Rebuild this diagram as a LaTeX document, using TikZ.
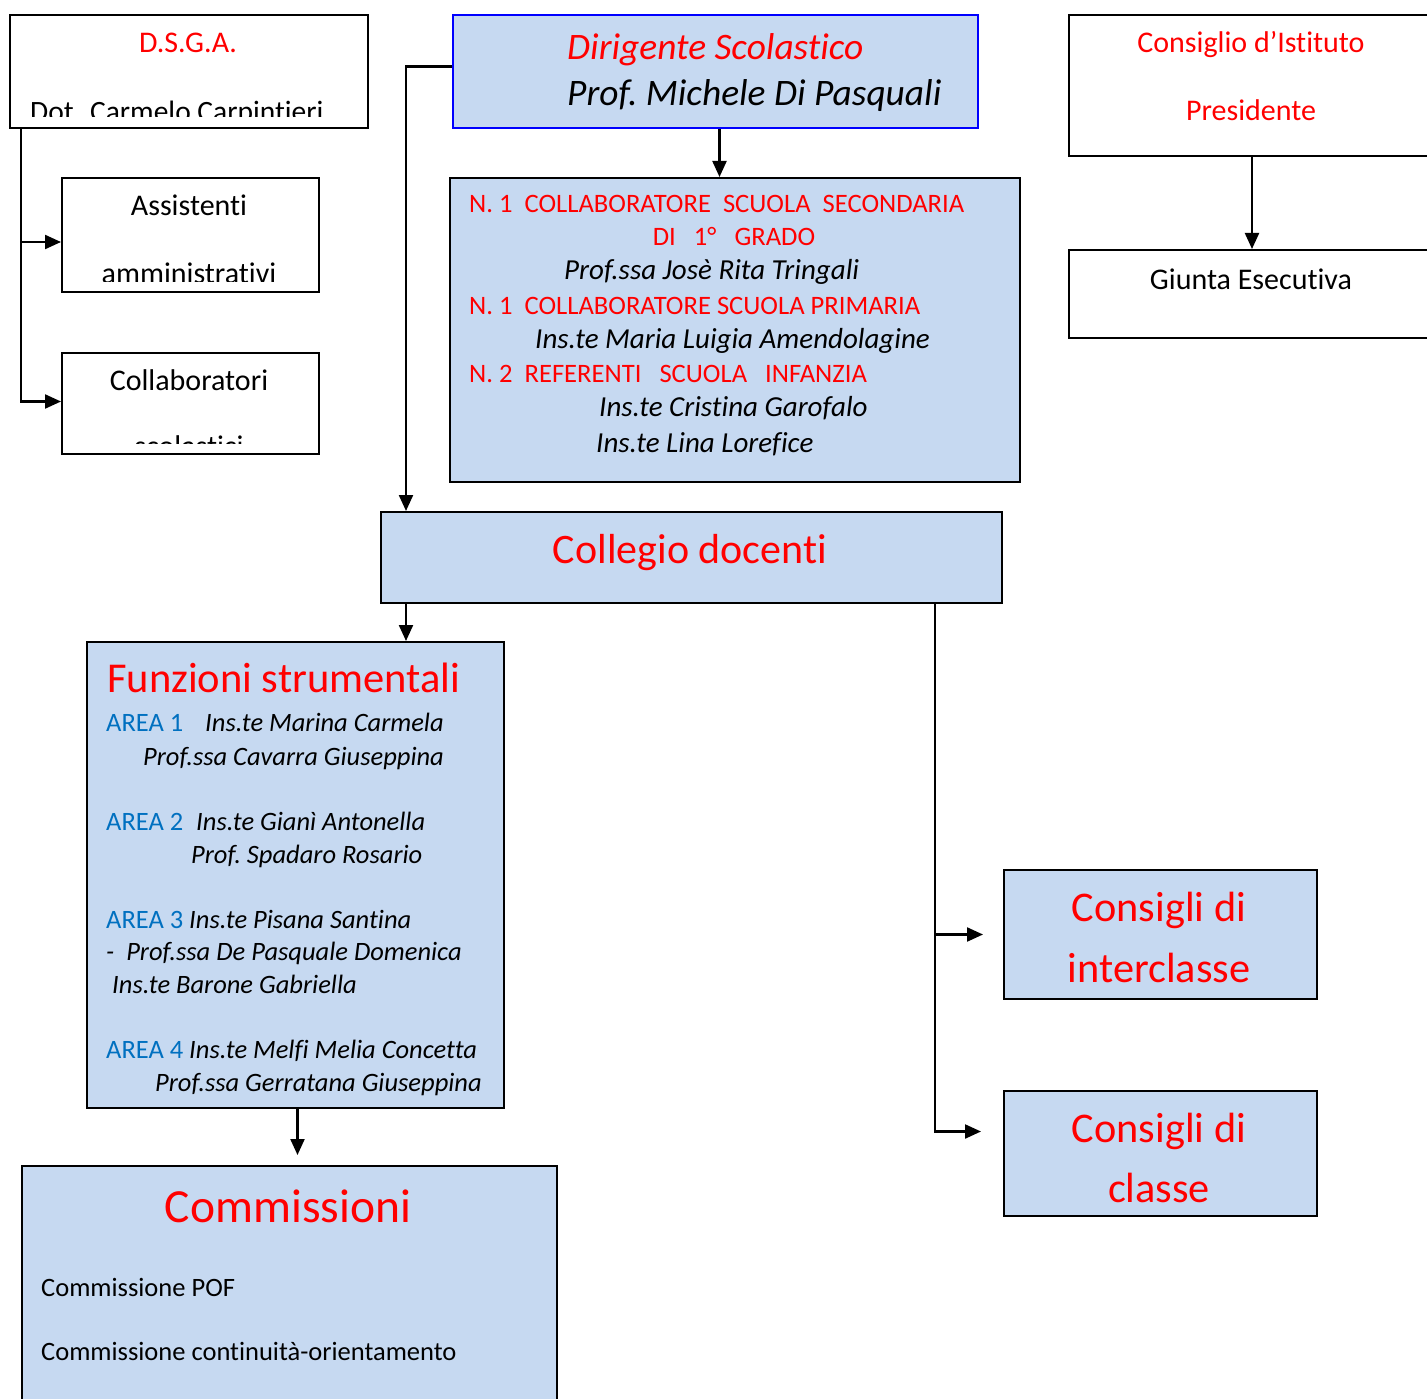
\documentclass[tikz,border=0pt]{standalone}
\usepackage{fontspec}
\setmainfont{Carlito}[Ligatures=CommonOff]
\usetikzlibrary{arrows.meta,positioning}
\definecolor{boxblue}{HTML}{C6D9F1}
\definecolor{areablue}{HTML}{0070C0}
\definecolor{dirblue}{HTML}{0000FF}
\definecolor{redtxt}{HTML}{FF0000}

\begin{document}
\begin{tikzpicture}[x=1pt,y=-1pt,
  wbox/.style={draw=black,line width=2pt,fill=white,inner sep=0pt,anchor=north west},
  bbox/.style={wbox,fill=boxblue},
  txt/.style={inner sep=0pt,anchor=base west},
  ctxt/.style={inner sep=0pt,anchor=base},
  arr/.style={line width=2.2pt,-{Triangle[length=16pt,width=14pt]}},
  conn/.style={line width=2.2pt}
]
\useasboundingbox (0,0) rectangle (1427,1399);

% ---- boxes ----------------------------------------------------
\node[wbox,minimum width=358pt,minimum height=113pt] (dsga)   at (9,14) {};
\node[wbox,minimum width=257pt,minimum height=114pt] (assist) at (61,177) {};
\node[wbox,minimum width=257pt,minimum height=101pt] (colsc)  at (61,352) {};
\node[bbox,draw=dirblue,minimum width=525pt,minimum height=113pt] (dirig) at (452,14) {};
\node[bbox,minimum width=570pt,minimum height=304pt] (collab) at (449,177) {};
\node[wbox,minimum width=366pt,minimum height=141pt] (consist) at (1068,14) {};
\node[wbox,minimum width=366pt,minimum height=88pt]  (giunta)  at (1068,249) {};
\node[bbox,minimum width=621pt,minimum height=91pt]  (collegio) at (380,511) {};
\node[bbox,minimum width=417pt,minimum height=466pt] (funz)   at (86,641) {};
\node[bbox,minimum width=535pt,minimum height=250pt] (comm)   at (21,1165) {};
\node[bbox,minimum width=313pt,minimum height=129pt] (interc) at (1003,869) {};
\node[bbox,minimum width=313pt,minimum height=125pt] (classe) at (1003,1090) {};

% ---- D.S.G.A. and staff ---------------------------------------
\node[ctxt,font=\fontsize{30}{36}\selectfont,text=redtxt] (dsgat) at (188,53) {D.S.G.A.};
\begin{scope}
  \clip (9,14) rectangle (367,117);
  \node[txt,font=\fontsize{29.5}{36}\selectfont] (dsgan) at (30,122) {Dot. Carmelo Carpintieri};
\end{scope}
\node[ctxt,font=\fontsize{30}{36}\selectfont] (assistt) at (189,216) {Assistenti};
\begin{scope}
  \clip (61,177) rectangle (318,281);
  \node[ctxt,font=\fontsize{30}{36}\selectfont] (assistb) at (189,283) {amministrativi};
\end{scope}
\node[ctxt,font=\fontsize{30}{36}\selectfont] (colsct) at (189,390) {Collaboratori};
\begin{scope}
  \clip (61,352) rectangle (318,443);
  \node[ctxt,font=\fontsize{30}{36}\selectfont] (colscb) at (189,456.5) {scolastici};
\end{scope}

% ---- Dirigente --------------------------------------------------
\node[txt,font=\fontsize{37.4}{44}\selectfont\itshape,text=redtxt] (dirt) at (567,60) {Dirigente Scolastico};
\node[txt,font=\fontsize{37.4}{44}\selectfont\itshape] (dirn) at (567,106) {Prof.\ Michele Di Pasquali};

% ---- collaboratori del dirigente --------------------------------
\tikzset{redl/.style={txt,font=\fontsize{26.6}{32}\selectfont,text=redtxt},
         namel/.style={txt,font=\fontsize{29}{34}\selectfont\itshape},
         namef/.style={txt,font=\fontsize{26.5}{32}\selectfont\itshape}}
\node[redl]  (c1) at (469,213) {N.~1~~COLLABORATORE~~SCUOLA~~SECONDARIA};
\node[redl,anchor=base] (c2) at (734,245) {DI~~~1°~~~GRADO};
\node[namel] (c3) at (564,279) {Prof.ssa Josè Rita Tringali};
\node[redl]  (c4) at (469,314) {N.~1~~COLLABORATORE SCUOLA PRIMARIA};
\node[namel] (c5) at (535,348) {Ins.te Maria Luigia Amendolagine};
\node[redl]  (c6) at (469,382) {N.~2~~REFERENTI~~~SCUOLA~~~INFANZIA};
\node[namel] (c7) at (599,416) {Ins.te Cristina Garofalo};
\node[namel] (c8) at (596,452) {Ins.te Lina Lorefice};

% ---- Consiglio d'Istituto ---------------------------------------
\node[ctxt,font=\fontsize{30}{36}\selectfont,text=redtxt] (consistt) at (1251,53) {Consiglio d’Istituto};
\node[ctxt,font=\fontsize{30}{36}\selectfont,text=redtxt] (consistp) at (1251,121) {Presidente};
\node[ctxt,font=\fontsize{30}{36}\selectfont] (giuntat) at (1251,289) {Giunta Esecutiva};

% ---- Collegio docenti -------------------------------------------
\node[ctxt,font=\fontsize{42}{50}\selectfont,text=redtxt] (collegiot) at (690,563) {Collegio docenti};

% ---- Funzioni strumentali ---------------------------------------
\tikzset{areal/.style={txt,font=\fontsize{26.5}{32}\selectfont,text=areablue}}
\node[txt,font=\fontsize{42.5}{50}\selectfont,text=redtxt] (funzt) at (107,692) {Funzioni strumentali};
\node[areal] (a1) at (106,731) {AREA 1};
\node[namef] (a1a) at (205,731) {Ins.te Marina Carmela};
\node[namef] (a1b) at (143,765) {Prof.ssa Cavarra Giuseppina};
\node[areal] (a2) at (106,830) {AREA 2};
\node[namef] (a2a) at (196,830) {Ins.te Gianì Antonella};
\node[namef] (a2b) at (191,863) {Prof.\ Spadaro Rosario};
\node[areal] (a3) at (106,928) {AREA 3};
\node[namef] (a3a) at (189,928) {Ins.te Pisana Santina};
\node[namef] (a3b) at (106,960) {-~~Prof.ssa De Pasquale Domenica};
\node[namef] (a3c) at (112,993) {Ins.te Barone Gabriella};
\node[areal] (a4) at (106,1058) {AREA 4};
\node[namef] (a4a) at (189,1058) {Ins.te Melfi Melia Concetta};
\node[namef] (a4b) at (155,1091) {Prof.ssa Gerratana Giuseppina};

% ---- Commissioni ------------------------------------------------
\node[ctxt,font=\fontsize{47.5}{57}\selectfont,text=redtxt] (commt) at (288,1222) {Commissioni};
\node[txt,font=\fontsize{26.5}{32}\selectfont] (comm1) at (41,1296) {Commissione POF};
\node[txt,font=\fontsize{26.5}{32}\selectfont] (comm2) at (41,1360) {Commissione continuità-orientamento};

% ---- Consigli ---------------------------------------------------
\node[ctxt,font=\fontsize{42.3}{50}\selectfont,text=redtxt] (interc1) at (1159,921) {Consigli di};
\node[ctxt,font=\fontsize{42.3}{50}\selectfont,text=redtxt] (interc2) at (1159,982) {interclasse};
\node[ctxt,font=\fontsize{42.3}{50}\selectfont,text=redtxt] (classe1) at (1159,1142) {Consigli di};
\node[ctxt,font=\fontsize{42.3}{50}\selectfont,text=redtxt] (classe2) at (1159,1202) {classe};

% ---- connectors -------------------------------------------------
\coordinate (dtap) at ([xshift=12pt]dsga.south west);
\draw[arr] (dtap) |- ([yshift=-7pt]assist.west);
\draw[arr] (dtap) |- ([yshift=2pt]colsc.west);
\draw[arr] ([yshift=5pt]dirig.west) -| ([xshift=26pt]collegio.north west);
\draw[arr] ([xshift=4pt]dirig.south) -- ([xshift=4pt]dirig.south |- collab.north);
\draw[arr] (consist.south) -- (giunta.north);
\draw[arr] ([xshift=26pt]collegio.south west) -- ([xshift=26pt]collegio.south west |- funz.north);
\coordinate (ctap) at ([xshift=-68pt]collegio.south east);
\draw[arr] (ctap) |- ([xshift=-20pt]interc.west);
\draw[arr] (ctap) |- ([xshift=-22pt,yshift=22pt]classe.west);
\draw[arr] ([xshift=2pt]funz.south) -- ([xshift=2pt,yshift=10pt]funz.south |- comm.north);

\end{tikzpicture}
\end{document}
